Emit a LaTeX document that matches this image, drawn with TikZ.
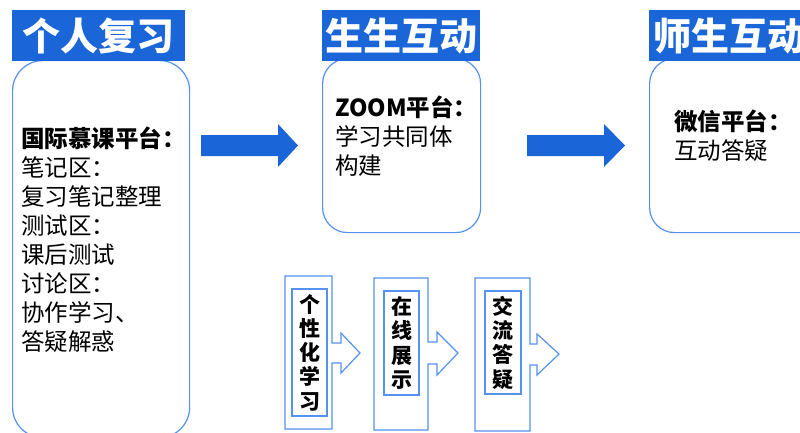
\documentclass[tikz,border=0pt]{standalone}
\usepackage{fontspec}
\setmainfont{Noto Sans CJK SC}
\definecolor{barblue}{RGB}{26,102,216}
\definecolor{lineblue}{RGB}{85,145,238}
\begin{document}
\begin{tikzpicture}[x=1pt,y=-1pt,
  panel/.style={draw=lineblue, line width=1.2pt, fill=white, anchor=north west, inner sep=0pt},
  titlebar/.style={fill=barblue, text=white, anchor=north west, inner sep=0pt,
    font=\fontsize{38}{40}\selectfont\bfseries, minimum height=51pt},
  bodytext/.style={anchor=north west, inner sep=0pt, align=left,
    font=\fontsize{23.5}{29}\selectfont},
  vtext/.style={draw=lineblue, line width=1.2pt, inner sep=0pt, align=center,
    font=\fontsize{21}{24.3}\selectfont\bfseries},
  outshape/.style={draw=lineblue, line width=1.2pt},
  bigarrow/.style={fill=barblue}
]
\clip (0,0) rectangle (800,432);
% panels
\node[panel, rounded corners=30pt, minimum width=177pt, minimum height=377pt] (box1) at (12,60) {};
\node[panel, rounded corners=25pt, minimum width=158pt, minimum height=174pt] (box2) at (322,58) {};
\node[panel, rounded corners=25pt, minimum width=180pt, minimum height=174pt] (box3) at (649,58) {};
% title bars
\node[titlebar, minimum width=173pt] (t1) at (12,10) {个人复习};
\node[titlebar, minimum width=158pt] (t2) at (322,10) {生生互动};
\node[titlebar, minimum width=160pt] (t3) at (649,10) {师生互动};
% texts
\node[bodytext] (txt1) at (21,127) {\textbf{国际慕课平台：}\\笔记区：\\复习笔记整理\\测试区：\\课后测试\\讨论区：\\协作学习、\\答疑解惑};
\node[bodytext] (txt2) at (335,96) {\textbf{ZOOM平台：}\\学习共同体\\构建};
\node[bodytext] (txt3) at (674,110) {\textbf{微信平台：}\\互动答疑};
% big arrows
\fill[bigarrow] (201,135) -- (278,135) -- (278,124) -- (298,145.5) -- (278,167) -- (278,156) -- (201,156) -- cycle;
\fill[bigarrow] (527,135) -- (604,135) -- (604,124) -- (625,145.5) -- (604,167) -- (604,156) -- (527,156) -- cycle;
% bottom outline arrows
\draw[outshape] (285,276) -- (332,276) -- (332,343) -- (341,343) -- (341,333) -- (360,353) -- (341,373) -- (341,363) -- (332,363) -- (332,429) -- (285,429) -- cycle;
\draw[outshape] (374,278) -- (428,278) -- (428,342) -- (437,342) -- (437,332) -- (458,353) -- (437,375) -- (437,364) -- (428,364) -- (428,430) -- (374,430) -- cycle;
\draw[outshape] (475,278) -- (530,278) -- (530,344) -- (537,344) -- (537,334) -- (559,354) -- (537,375) -- (537,365) -- (530,365) -- (530,431) -- (475,431) -- cycle;
% inner boxes with vertical text
\node[vtext, minimum width=35pt, minimum height=127pt] (v1) at (309.5,352.5) {个\\性\\化\\学\\习};
\node[vtext, minimum width=35pt, minimum height=104pt] (v2) at (401.5,343) {在\\线\\展\\示};
\node[vtext, minimum width=36pt, minimum height=103pt] (v3) at (503,342.5) {交\\流\\答\\疑};
\end{tikzpicture}
\end{document}
